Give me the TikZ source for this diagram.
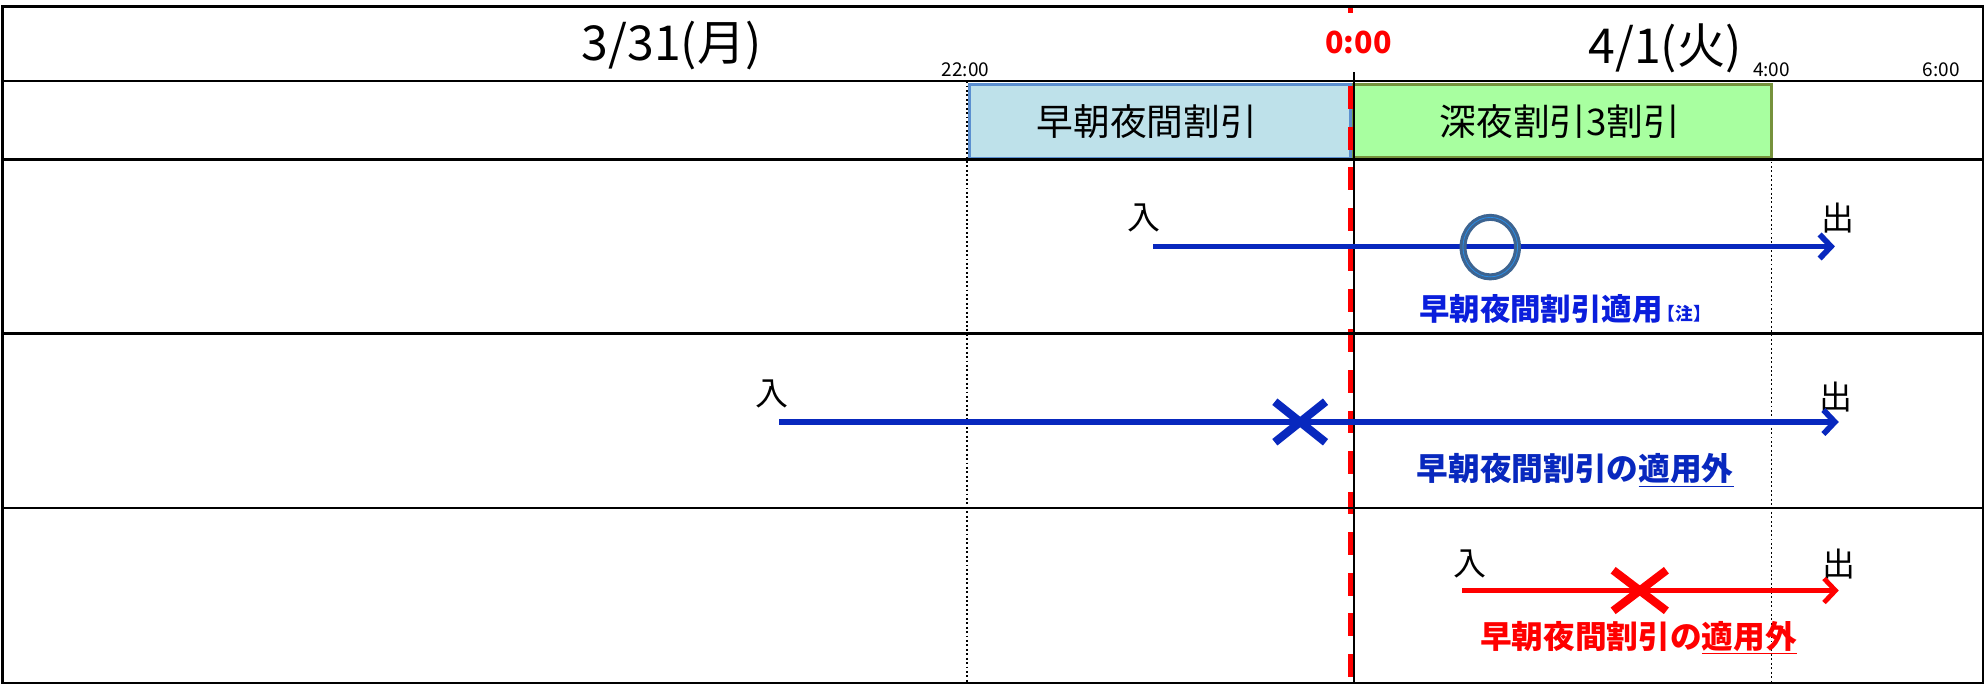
\documentclass[tikz,border=0pt]{standalone}
\usepackage{fontspec}
\setmainfont{Noto Sans CJK JP}
\usetikzlibrary{arrows.meta}
\definecolor{lineblue}{RGB}{8,40,190}
\definecolor{txtblue}{RGB}{10,30,220}
\definecolor{boxblue}{RGB}{190,225,234}
\definecolor{boxblueedge}{RGB}{91,143,208}
\definecolor{boxgreen}{RGB}{168,255,160}
\definecolor{boxgreenedge}{RGB}{118,146,60}
\definecolor{ringc}{RGB}{61,100,145}
\definecolor{ringin}{RGB}{40,140,230}
\definecolor{xred}{RGB}{255,0,0}
\tikzset{
  frameline/.style={line width=2pt,black},
  vdot/.style={line width=1.1pt,black,dash pattern=on 1.5pt off 2pt},
  zeroline/.style={line width=4pt,xred,dash pattern=on 18pt off 14pt},
  zerosolid/.style={line width=1.1pt,black},
  datelbl/.style={font=\fontsize{38}{38}\selectfont,inner sep=0pt},
  timelbl/.style={font=\fontsize{15}{15}\selectfont,inner sep=0pt},
  zerolbl/.style={font=\bfseries\fontsize{24}{24}\selectfont,text=xred,fill=white,inner sep=0pt,minimum height=47pt,minimum width=50pt},
  bluebox/.style={draw=boxblueedge,fill=boxblue,line width=2.5pt,inner sep=0pt},
  greenbox/.style={draw=boxgreenedge,fill=boxgreen,line width=2.5pt,inner sep=0pt},
  boxtxt/.style={font=\fontsize{29}{29}\selectfont,inner sep=0pt},
  inout/.style={font=\fontsize{26}{26}\selectfont,inner sep=0pt},
  flowblue/.style={line width=4.5pt,lineblue,-{Straight Barb[length=9pt,width=19pt]}},
  flowred/.style={line width=3.8pt,xred,-{Straight Barb[length=9pt,width=19pt]}},
  xmarkblue/.style={line width=6.5pt,lineblue,line cap=butt},
  xmarkred/.style={line width=6.5pt,xred,line cap=butt},
  ring/.style={line width=5.5pt,ringc},
  ringinner/.style={line width=0.6pt,ringin},
  note/.style={font=\bfseries\fontsize{24}{24}\selectfont,inner sep=0pt},
}
\begin{document}
\begin{tikzpicture}[x=1pt,y=-1pt]
\useasboundingbox (0,0) rectangle (1568,541);
\fill[white] (0,0) rectangle (1568,541);
% verticals dotted
\draw[vdot] (763,64) -- (763,539);
\draw[vdot] (1398,124) -- (1398,539);
% boxes
\node[bluebox,minimum width=301pt,minimum height=58pt] (b1) at (915.5,96) {};
\node[greenbox,minimum width=330pt,minimum height=57pt] (b2) at (1233,95.5) {};
\node[boxtxt] (t1) at (905,96) {早朝夜間割引};
\node[boxtxt] (t2) at (1231,96) {深夜割引3割引};
% black solid at 0:00
\draw[zerosolid] (1068.5,57) -- (1068.5,539);
% red dashed
\draw[zeroline] (1066,4) -- (1066,541);
% frame and rows
\draw[frameline] (2,5) rectangle (1565,539);
\foreach \yy in {64,126,263,401} \draw[frameline] (2,\yy) -- (1565,\yy);
% labels top
\node[datelbl] (d1) at (530,36) {3/31(月)};
\node[datelbl] (d2) at (1314,38) {4/1(火)};
\node[zerolbl] (z0) at (1072,33.5) {0:00};
\node[timelbl] (h22) at (762,55) {22:00};
\node[timelbl] (h4) at (1398,55) {4:00};
\node[timelbl] (h6) at (1532,55) {6:00};
% row 3
\node[inout] (in1) at (903,172) {入};
\node[inout] (out1) at (1450,172) {出};
\coordinate (s1) at (910,194.5);
\coordinate (e1) at (1448,194.5);
\draw[flowblue] (s1) -- (e1);
\draw[ring] (1176,195) ellipse [x radius=21.5, y radius=23.5];
\draw[ringinner] (1176,195) ellipse [x radius=21.5, y radius=23.5];
\node[note,text=txtblue] (n1) at (1235,244) {早朝夜間割引適用{\fontsize{14}{14}\selectfont\hspace{-4pt}【注】}};
% row 4
\node[inout] (in2) at (609,311) {入};
\node[inout] (out2) at (1449,313) {出};
\coordinate (s2) at (615,333);
\coordinate (e2) at (1451,333);
\draw[flowblue] (s2) -- (e2);
\draw[xmarkblue,shift={(1026,333)}] (-20,-16) -- (20,16) (-20,16) -- (20,-16);
\node[note,text=lineblue,font=\bfseries\fontsize{25}{25}\selectfont] (n2) at (1243,371) {早朝夜間割引の\underline{適用外}};
% row 5
\node[inout] (in3) at (1160,445) {入};
\node[inout] (out3) at (1451,445) {出};
\coordinate (s3) at (1154,466);
\coordinate (e3) at (1451,466);
\draw[flowred] (s3) -- (e3);
\draw[xmarkred,shift={(1294,466)}] (-21,-16) -- (21,16) (-21,16) -- (21,-16);
\node[note,text=xred,font=\bfseries\fontsize{25}{25}\selectfont] (n3) at (1293,503) {早朝夜間割引の\underline{適用外}};
\end{tikzpicture}
\end{document}
